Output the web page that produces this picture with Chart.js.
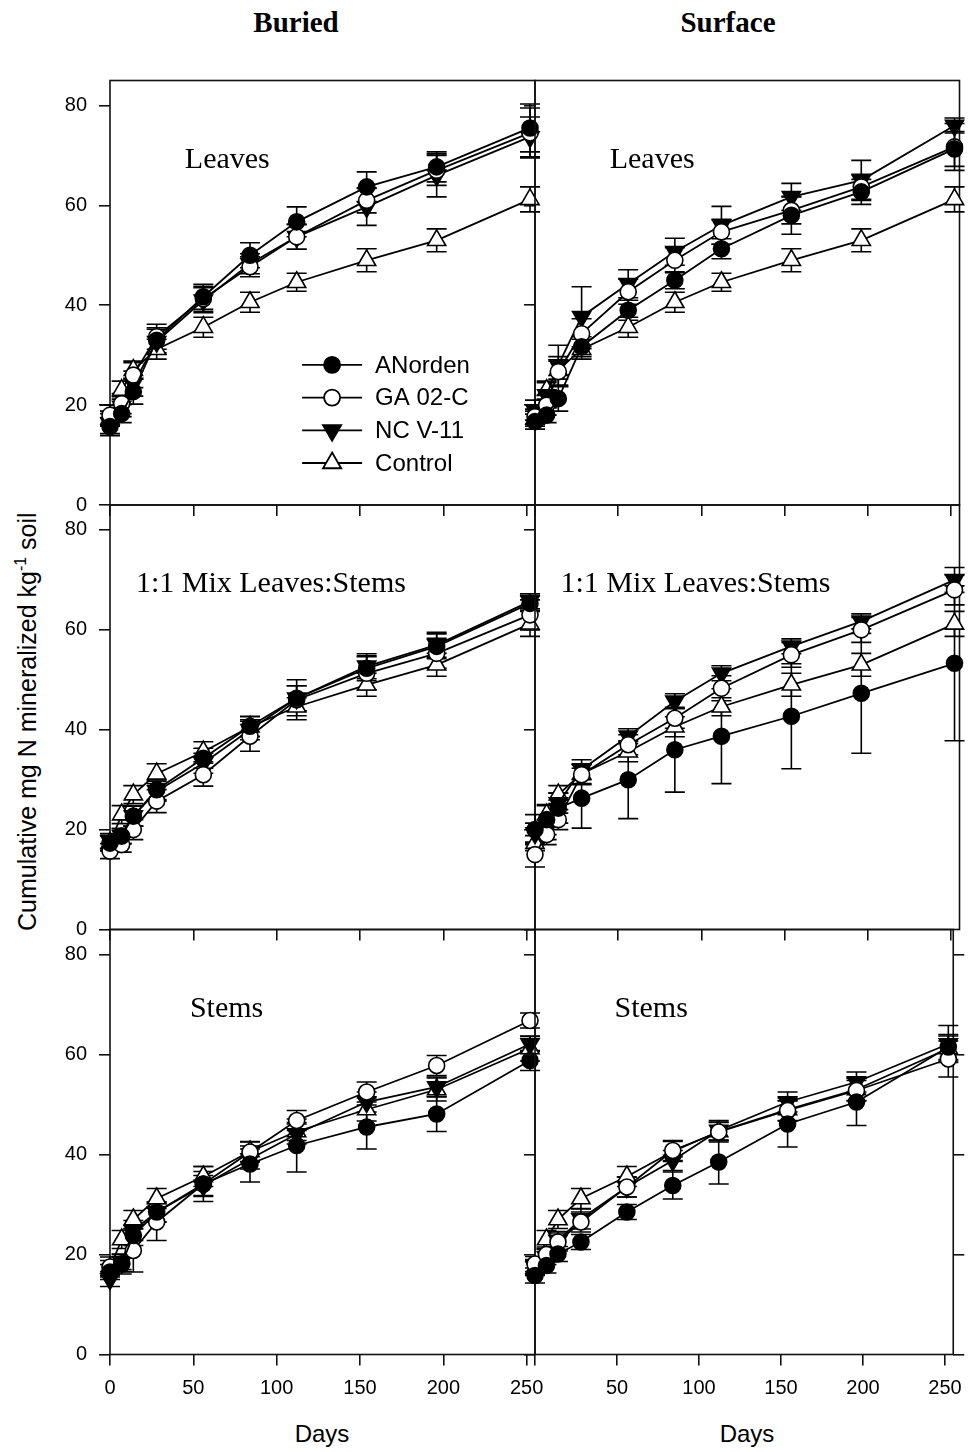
<!DOCTYPE html>
<html>
<head>
<meta charset="utf-8">
<title>Cumulative N mineralization</title>
<script src="https://cdn.jsdelivr.net/npm/chart.js@4.4.1/dist/chart.umd.min.js"></script>
<style>
  html, body { margin: 0; padding: 0; background: #fff; }
  #page { position: relative; width: 973px; height: 1452px; overflow: hidden; }
  #page canvas { position: absolute; left: 0; top: 0; }
  .colTitle { position: absolute; top: 6px; width: 300px; text-align: center; line-height: 36px;
    font: bold 29px "Liberation Serif", "Times New Roman", serif; }
  .days { position: absolute; top: 1420px; width: 200px; text-align: center; line-height: 30px;
    font: 24px "Liberation Sans", Arial, sans-serif; }
  #ytitle { position: absolute; left: 27px; top: 722px; width: 600px; margin-left: -300px; margin-top: -15px;
    line-height: 30px; text-align: center; white-space: nowrap; transform: rotate(-90deg);
    font: 25px "Liberation Sans", Arial, sans-serif; }
  #ytitle sup { font-size: 16px; }
</style>
</head>
<body>
<div id="page">
  <div class="colTitle" style="left:146px">Buried</div>
  <div class="colTitle" style="left:578px">Surface</div>
  <div class="days" style="left:222px">Days</div>
  <div class="days" style="left:647px">Days</div>
  <div id="ytitle">Cumulative mg N mineralized kg<sup>-1</sup> soil</div>
</div>
<script>
// ---------------- data ----------------
const days = [0, 7, 14, 28, 56, 84, 112, 154, 196, 252];
const xTicks = [0, 50, 100, 150, 200, 250];
const yTicks = [0, 20, 40, 60, 80];
const seriesNames = ['ANorden', 'GA 02-C', 'NC V-11', 'Control'];

// control soil (same curve in every panel)
const control    = [17.3, 23.0, 27.0, 31.2, 35.6, 40.6, 44.6, 49.0, 53.0, 61.2];
const controlErr = [1.5, 1.8, 1.8, 2.0, 2.0, 2.0, 1.8, 2.3, 2.3, 2.5];

// buried - leaves
const buriedLeavesAN    = [15.7, 18.3, 22.7, 33.0, 41.7, 50.0, 56.7, 63.7, 67.7, 75.5];
const buriedLeavesANErr = [1.8, 1.8, 2.5, 2.5, 2.5, 2.5, 3.0, 3.0, 3.0, 4.8];
const buriedLeavesGA    = [18.0, 20.3, 26.0, 33.7, 41.3, 47.7, 53.7, 61.0, 67.0, 74.5];
const buriedLeavesGAErr = [2.0, 2.0, 2.5, 2.5, 2.5, 2.0, 2.5, 2.5, 3.0, 5.0];
const buriedLeavesNC    = [16.3, 19.7, 24.3, 32.7, 41.0, 48.3, 53.7, 59.7, 66.0, 73.7];
const buriedLeavesNCErr = [2.0, 2.0, 2.5, 2.5, 2.5, 2.0, 2.5, 3.7, 4.3, 4.0];

// surface - leaves
const surfLeavesAN    = [16.7, 18.0, 21.3, 31.7, 39.0, 45.0, 51.3, 58.0, 62.7, 71.3];
const surfLeavesANErr = [1.5, 1.5, 2.5, 2.0, 2.0, 1.7, 2.0, 3.8, 2.5, 3.5];
const surfLeavesGA    = [17.7, 20.0, 26.7, 34.3, 42.7, 49.0, 54.7, 59.0, 63.7, 71.7];
const surfLeavesGAErr = [1.5, 2.0, 3.0, 3.0, 2.5, 2.5, 2.5, 2.7, 2.5, 4.7];
const surfLeavesNC    = [19.0, 22.0, 28.0, 37.7, 44.3, 50.7, 56.0, 61.7, 65.0, 76.0];
const surfLeavesNCErr = [2.0, 2.5, 4.0, 6.0, 2.8, 2.7, 3.8, 2.7, 4.0, 1.5];

// buried - 1:1 mix
const buriedMixAN    = [17.3, 18.7, 22.7, 28.0, 34.3, 40.7, 46.3, 52.3, 56.7, 65.3];
const buriedMixANErr = [1.5, 1.5, 2.0, 2.0, 2.0, 2.0, 2.5, 2.5, 2.5, 1.5];
const buriedMixGA    = [15.7, 17.0, 20.0, 25.7, 31.0, 38.7, 46.0, 51.3, 55.3, 63.0];
const buriedMixGAErr = [1.5, 1.5, 2.0, 2.3, 2.3, 3.0, 4.0, 3.3, 3.0, 3.0];
const buriedMixNC    = [17.7, 18.7, 22.7, 27.7, 33.3, 40.0, 46.3, 52.7, 57.0, 65.7];
const buriedMixNCErr = [1.5, 1.5, 2.0, 2.0, 2.0, 2.0, 2.5, 2.5, 2.5, 1.5];

// surface - 1:1 mix
const surfMixAN    = [20.0, 22.0, 24.3, 26.3, 30.0, 36.0, 38.7, 42.7, 47.3, 53.3];
const surfMixANErr = [3.0, 3.0, 3.0, 6.0, 7.8, 8.5, 9.5, 10.5, 12.0, 15.5];
const surfMixGA    = [15.0, 19.0, 22.0, 31.0, 37.0, 42.3, 48.3, 55.0, 60.0, 68.0];
const surfMixGAErr = [2.5, 2.0, 2.0, 2.0, 2.0, 2.0, 2.5, 2.5, 2.5, 3.0];
const surfMixNC    = [19.3, 20.0, 25.3, 32.0, 38.7, 45.7, 51.3, 56.7, 61.7, 70.0];
const surfMixNCErr = [2.0, 2.0, 2.0, 2.0, 1.5, 1.5, 1.5, 1.5, 1.5, 2.5];

// buried - stems
const buriedStemsAN    = [16.5, 18.1, 23.8, 28.5, 34.1, 38.1, 41.8, 45.5, 48.1, 58.8];
const buriedStemsANErr = [1.5, 1.5, 2.0, 2.0, 2.5, 3.6, 5.3, 4.4, 3.5, 2.0];
const buriedStemsGA    = [17.5, 18.1, 20.8, 26.5, 34.1, 40.5, 46.8, 52.5, 57.8, 66.8];
const buriedStemsGAErr = [2.0, 2.0, 4.3, 3.7, 3.5, 2.0, 2.0, 2.0, 2.0, 1.5];
const buriedStemsNC    = [15.1, 18.5, 24.8, 28.5, 33.8, 39.1, 44.1, 50.5, 53.5, 62.1];
const buriedStemsNCErr = [1.5, 1.5, 2.0, 2.0, 2.0, 2.0, 2.0, 2.0, 2.0, 1.5];

// surface - stems
const surfStemsAN    = [15.8, 17.8, 20.1, 22.5, 28.5, 33.8, 38.5, 46.1, 50.5, 61.5];
const surfStemsANErr = [1.5, 1.5, 1.5, 1.5, 1.5, 2.7, 4.4, 4.6, 4.7, 2.5];
const surfStemsGA    = [18.1, 20.0, 22.5, 26.5, 33.5, 40.8, 44.5, 48.8, 52.8, 59.1];
const surfStemsGAErr = [1.5, 1.5, 1.8, 2.0, 2.0, 2.0, 2.0, 2.0, 2.0, 3.6];
const surfStemsNC    = [17.5, 19.5, 22.8, 27.1, 33.5, 38.8, 44.8, 50.5, 54.5, 62.1];
const surfStemsNCErr = [1.5, 1.5, 1.8, 2.0, 2.0, 2.0, 2.0, 2.0, 2.0, 3.7];

// ---------------- layout ----------------
const PAGE_W = 973, PAGE_H = 1452;
const COLS = [[110, 535], [535, 959.5]];
const ROWS = [[80.5, 505], [505, 929.5], [929.5, 1354.5]];
const AXIS_W = 60, AXIS_H = 50, RIGHT_W = 14;

const panels = [
  { col: 0, row: 0, label: 'Leaves', labelX: 0.176, legend: true,
    series: [buriedLeavesAN, buriedLeavesGA, buriedLeavesNC, control],
    errors: [buriedLeavesANErr, buriedLeavesGAErr, buriedLeavesNCErr, controlErr] },
  { col: 1, row: 0, label: 'Leaves', labelX: 0.176,
    series: [surfLeavesAN, surfLeavesGA, surfLeavesNC, control],
    errors: [surfLeavesANErr, surfLeavesGAErr, surfLeavesNCErr, controlErr] },
  { col: 0, row: 1, label: '1:1 Mix Leaves:Stems', labelX: 0.061,
    series: [buriedMixAN, buriedMixGA, buriedMixNC, control],
    errors: [buriedMixANErr, buriedMixGAErr, buriedMixNCErr, controlErr] },
  { col: 1, row: 1, label: '1:1 Mix Leaves:Stems', labelX: 0.060,
    series: [surfMixAN, surfMixGA, surfMixNC, control],
    errors: [surfMixANErr, surfMixGAErr, surfMixNCErr, controlErr] },
  { col: 0, row: 2, label: 'Stems', labelX: 0.188,
    series: [buriedStemsAN, buriedStemsGA, buriedStemsNC, control],
    errors: [buriedStemsANErr, buriedStemsGAErr, buriedStemsNCErr, controlErr] },
  { col: 1, row: 2, label: 'Stems', labelX: 0.190, rightTicks: true,
    series: [surfStemsAN, surfStemsGA, surfStemsNC, control],
    errors: [surfStemsANErr, surfStemsGAErr, surfStemsNCErr, controlErr] }
];

// filled circle, open circle, filled down-triangle, open triangle
const markerStyles = [
  { pointStyle: 'circle',   pointRadius: 8,    pointRotation: 0,   pointBackgroundColor: '#000' },
  { pointStyle: 'circle',   pointRadius: 8,    pointRotation: 0,   pointBackgroundColor: '#fff' },
  { pointStyle: 'triangle', pointRadius: 10.5, pointRotation: 180, pointBackgroundColor: '#000' },
  { pointStyle: 'triangle', pointRadius: 10.5, pointRotation: 0,   pointBackgroundColor: '#fff' }
];

Chart.defaults.font.family = '"Liberation Sans", Arial, sans-serif';
Chart.defaults.color = '#000';

// ---------------- plugins ----------------
const errorBars = {
  id: 'errorBars',
  beforeDatasetsDraw(chart) {
    const { ctx, scales: { x, y } } = chart;
    ctx.save();
    ctx.strokeStyle = '#000';
    ctx.lineWidth = 1.6;
    chart.data.datasets.forEach(ds => {
      ds.data.forEach((pt, k) => {
        const e = ds.errors[k];
        const px = x.getPixelForValue(pt.x);
        const hi = y.getPixelForValue(pt.y + e);
        const lo = y.getPixelForValue(pt.y - e);
        ctx.beginPath();
        ctx.moveTo(px, hi); ctx.lineTo(px, lo);
        ctx.moveTo(px - 10, hi); ctx.lineTo(px + 10, hi);
        ctx.moveTo(px - 10, lo); ctx.lineTo(px + 10, lo);
        ctx.stroke();
      });
    });
    ctx.restore();
  }
};

const panelFrame = {
  id: 'panelFrame',
  beforeDatasetsDraw(chart) {
    const { ctx, chartArea: a } = chart;
    ctx.save();
    ctx.strokeStyle = '#111';
    ctx.lineWidth = 1.6;
    ctx.strokeRect(a.left, a.top, a.right - a.left, a.bottom - a.top);
    ctx.restore();
  }
};

const panelLabel = {
  id: 'panelLabel',
  afterDraw(chart, args, opts) {
    const { ctx, chartArea: a } = chart;
    ctx.save();
    ctx.font = '30px "Liberation Serif", "Times New Roman", serif';
    ctx.fillStyle = '#000';
    ctx.textBaseline = 'alphabetic';
    ctx.fillText(opts.text, a.left + opts.x * a.width, a.top + opts.y * a.height);
    ctx.restore();
  }
};

const insideLegend = {
  id: 'insideLegend',
  afterDraw(chart, args, opts) {
    if (!opts.display) return;
    const { ctx, chartArea: a } = chart;
    const x0 = a.left + opts.x * a.width;
    const y0 = a.top + opts.y * a.height;
    ctx.save();
    chart.data.datasets.forEach((ds, i) => {
      const cy = y0 + i * opts.rowGap;
      ctx.strokeStyle = '#000';
      ctx.lineWidth = 1.8;
      ctx.beginPath();
      ctx.moveTo(x0, cy);
      ctx.lineTo(x0 + opts.lineLen, cy);
      ctx.stroke();
      ctx.fillStyle = ds.pointBackgroundColor;
      Chart.helpers.drawPoint(ctx, {
        pointStyle: ds.pointStyle, radius: ds.pointRadius,
        rotation: ds.pointRotation, borderWidth: 1.6
      }, x0 + opts.lineLen / 2, cy);
      ctx.fillStyle = '#000';
      ctx.font = '24px "Liberation Sans", Arial, sans-serif';
      ctx.textBaseline = 'middle';
      ctx.fillText(ds.label, x0 + opts.lineLen + opts.textGap, cy + 1);
    });
    ctx.restore();
  }
};

// ---------------- charts ----------------
const tickGrid = {
  display: true, drawOnChartArea: false, drawTicks: true,
  tickLength: 11, color: '#111', lineWidth: 1.6
};

function fixedTicks(values) {
  return axis => { axis.ticks = values.map(v => ({ value: v })); };
}

function buildPanel(p) {
  const canvas = document.createElement('canvas');
  canvas.width = PAGE_W;
  canvas.height = PAGE_H;
  document.getElementById('page').appendChild(canvas);

  const [L, R] = COLS[p.col];
  const [T, B] = ROWS[p.row];
  const bottomRow = p.row === 2;
  const leftCol = p.col === 0;

  const datasets = p.series.map((vals, i) => ({
    label: seriesNames[i],
    data: days.map((d, k) => ({ x: d, y: vals[k] })),
    errors: p.errors[i],
    borderColor: '#000',
    borderWidth: 1.8,
    pointBorderColor: '#000',
    pointBorderWidth: 1.6,
    tension: 0,
    fill: false,
    clip: false,
    ...markerStyles[i]
  }));

  const scales = {
    x: {
      type: 'linear', min: 0, max: 255,
      afterBuildTicks: fixedTicks(xTicks),
      afterFit: s => { s.height = AXIS_H; },
      grid: tickGrid,
      border: { display: false },
      ticks: {
        padding: 11, maxRotation: 0, autoSkip: false, font: { size: 20 },
        callback: v => (bottomRow && !(p.col === 1 && v === 0)) ? String(v) : ''
      }
    },
    y: {
      type: 'linear', min: 0, max: 85,
      afterBuildTicks: fixedTicks(yTicks),
      afterFit: s => { s.width = AXIS_W; },
      grid: tickGrid,
      border: { display: false },
      ticks: { padding: 12, font: { size: 20 }, callback: v => leftCol ? String(v) : '' }
    }
  };
  if (p.rightTicks) {
    scales.y2 = {
      type: 'linear', position: 'right', min: 0, max: 85,
      afterBuildTicks: fixedTicks(yTicks),
      afterFit: s => { s.width = RIGHT_W; },
      grid: tickGrid,
      border: { display: false },
      ticks: { callback: () => '' }
    };
  }

  new Chart(canvas, {
    type: 'line',
    data: { datasets },
    options: {
      responsive: false,
      animation: false,
      devicePixelRatio: 1,
      events: [],
      layout: {
        padding: {
          left: L - AXIS_W,
          top: T,
          right: PAGE_W - R - (p.rightTicks ? RIGHT_W : 0),
          bottom: PAGE_H - B - AXIS_H
        }
      },
      scales,
      plugins: {
        legend: { display: false },
        tooltip: { enabled: false },
        panelLabel: { text: p.label, x: p.labelX, y: 0.205 },
        insideLegend: { display: !!p.legend, x: 0.452, y: 0.670, rowGap: 32.7, lineLen: 60, textGap: 13 }
      }
    },
    plugins: [panelFrame, errorBars, panelLabel, insideLegend]
  });
}

panels.forEach(buildPanel);
</script>
</body>
</html>
